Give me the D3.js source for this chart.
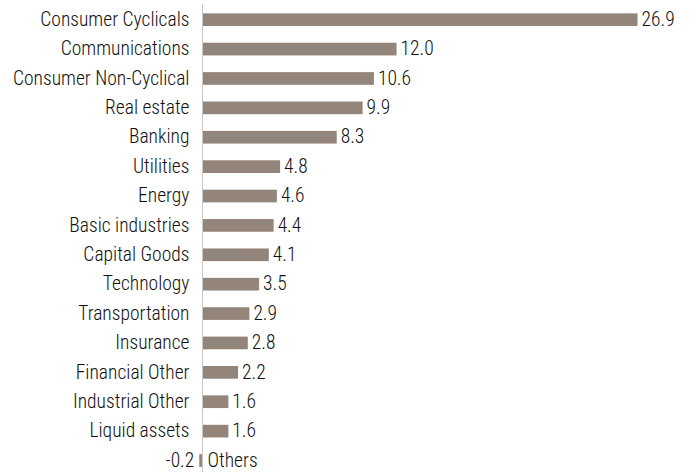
<!DOCTYPE html>
<html>
<head>
<meta charset="utf-8">
<script src="https://cdn.jsdelivr.net/npm/d3@7"></script>
<style>
  body { margin: 0; background: #fff; }
  text { font-family: "Roboto Condensed", "Roboto", sans-serif; font-weight: 300; }
</style>
</head>
<body>
<svg id="chart" width="691" height="472"></svg>
<script>
const categories = ["Consumer Cyclicals", "Communications", "Consumer Non-Cyclical", "Real estate",
  "Banking", "Utilities", "Energy", "Basic industries", "Capital Goods", "Technology",
  "Transportation", "Insurance", "Financial Other", "Industrial Other", "Liquid assets", "Others"];
const values = [26.9, 12.0, 10.6, 9.9, 8.3, 4.8, 4.6, 4.4, 4.1, 3.5, 2.9, 2.8, 2.2, 1.6, 1.6, -0.2];

const width = 691, height = 472;
const svg = d3.select("#chart");

const x = d3.scaleLinear().domain([0, 26.9]).range([202.5, 637.5]);
const y = d3.scaleBand().domain(categories).range([5.0, 475.2]).paddingInner(0.568).paddingOuter(0.284);

const data = categories.map((c, i) => ({ cat: c, val: values[i] }));

// bars
svg.selectAll("rect.bar")
  .data(data)
  .join("rect")
  .attr("class", "bar")
  .attr("x", d => x(Math.min(0, d.val)))
  .attr("y", d => y(d.cat))
  .attr("width", d => Math.abs(x(d.val) - x(0)))
  .attr("height", y.bandwidth())
  .attr("fill", "#94857a");

// zero axis line
svg.append("line")
  .attr("x1", x(0)).attr("x2", x(0))
  .attr("y1", 4).attr("y2", height)
  .attr("stroke", "#c8c8c8")
  .attr("stroke-width", 1);

// category labels
svg.selectAll("text.cat")
  .data(data)
  .join("text")
  .attr("class", "cat")
  .attr("x", d => d.val < 0 ? x(0) + 5 : x(0) - 13)
  .attr("y", d => y(d.cat) + y.bandwidth() / 2)
  .attr("dy", "0.32em")
  .attr("text-anchor", d => d.val < 0 ? "start" : "end")
  .attr("font-size", 19.5)
  .attr("fill", "#111")
  .text(d => d.cat);

// value labels
svg.selectAll("text.val")
  .data(data)
  .join("text")
  .attr("class", "val")
  .attr("x", d => d.val < 0 ? x(d.val) - 5 : x(d.val) + 4)
  .attr("y", d => y(d.cat) + y.bandwidth() / 2)
  .attr("dy", "0.32em")
  .attr("text-anchor", d => d.val < 0 ? "end" : "start")
  .attr("font-size", 19.5)
  .attr("fill", "#111")
  .text(d => d.val.toFixed(1));
</script>
</body>
</html>
